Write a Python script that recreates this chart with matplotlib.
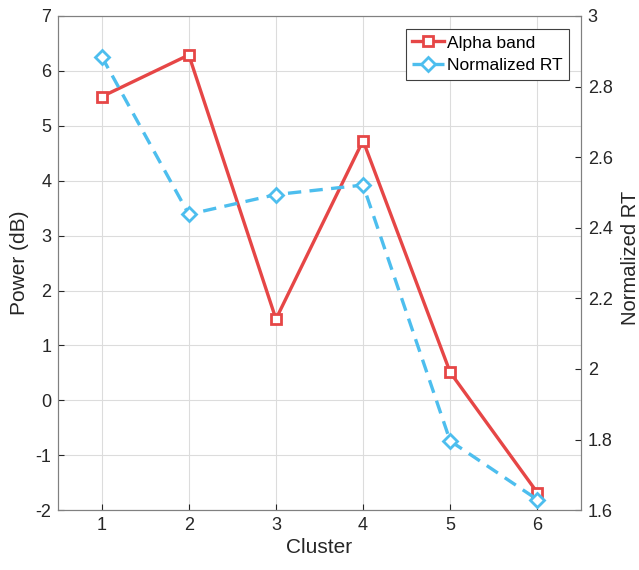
import matplotlib.pyplot as plt
from matplotlib.ticker import FormatStrFormatter

plt.rcParams['font.family'] = ['Liberation Sans', 'DejaVu Sans']
plt.rcParams['axes.unicode_minus'] = False

# data
cluster = [1, 2, 3, 4, 5, 6]
alpha_power = [5.53, 6.29, 1.48, 4.73, 0.51, -1.68]
norm_rt = [2.885, 2.438, 2.494, 2.521, 1.796, 1.630]

red = '#E64646'
blue = '#4DBEEE'
gray = '#262626'

fig = plt.figure(figsize=(6.39, 5.70), dpi=100)
ax = fig.add_axes([0.091, 0.105, 0.818, 0.867])
ax2 = ax.twinx()

l1, = ax.plot(cluster, alpha_power, color=red, lw=2.4, marker='s', ms=7,
              mfc='white', mec=red, mew=2.0, label='Alpha band', zorder=3)
l2, = ax2.plot(cluster, norm_rt, color=blue, lw=2.4, ls=(0, (4, 2.5)), marker='D',
               ms=7.5, mfc='white', mec=blue, mew=2.0, label='Normalized RT', zorder=4)
ax2.set_zorder(ax.get_zorder() + 1)
ax2.patch.set_visible(False)

ax.set_xlim(0.5, 6.5)
ax.set_ylim(-2, 7)
ax.set_xticks(cluster)
ax.set_yticks(range(-2, 8))
ax2.set_ylim(1.6, 3.0)
ax2.set_yticks([1.6, 1.8, 2.0, 2.2, 2.4, 2.6, 2.8, 3.0])
ax2.yaxis.set_major_formatter(FormatStrFormatter('%g'))

ax.grid(True, color='#dcdcdc', lw=0.8)
ax.set_axisbelow(True)

for a in (ax, ax2):
    a.tick_params(direction='in', length=4, width=0.8, colors=gray, labelsize=13, pad=5)
    for s in a.spines.values():
        s.set_color('#808080')
        s.set_linewidth(0.8)

ax.set_xlabel('Cluster', fontsize=15, color=gray, labelpad=3)
ax.set_ylabel('Power (dB)', fontsize=15, color=gray)
ax.yaxis.set_label_coords(-0.055, 0.5)
ax2.set_ylabel('Normalized RT', fontsize=14.5, color=gray)
ax2.yaxis.set_label_coords(1.077, 0.51)

leg = ax2.legend(handles=[l1, l2], loc='upper right', fontsize=12.5, handlelength=1.8,
                 handletextpad=0.2, borderpad=0.35, labelspacing=0.45,
                 borderaxespad=0, fancybox=False, framealpha=1, edgecolor='#404040',
                 bbox_to_anchor=(0.977, 0.973))
leg.get_frame().set_linewidth(0.8)

fig.savefig('out.png', dpi=100)
